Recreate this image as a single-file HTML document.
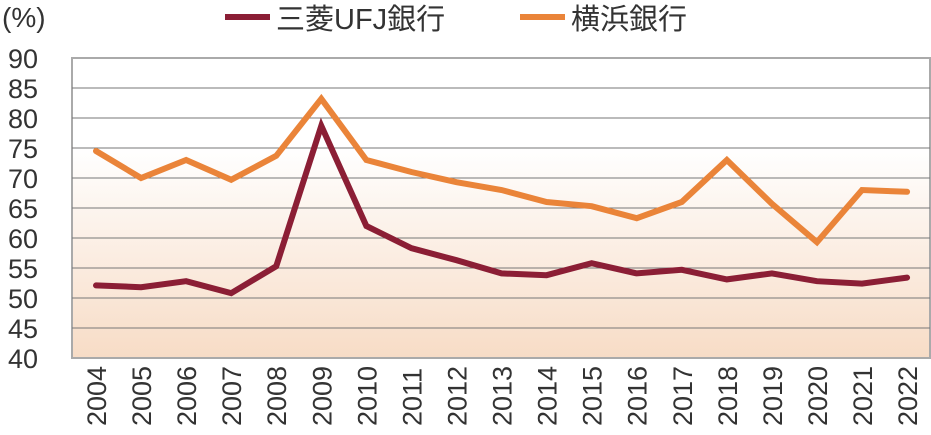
<!DOCTYPE html>
<html><head><meta charset="utf-8"><style>
body{margin:0;background:#fff;width:931px;height:430px;overflow:hidden;font-family:"Liberation Sans","Noto Sans CJK JP",sans-serif}
</style></head><body>
<svg width="931" height="430">
<defs><linearGradient id="bg" x1="0" y1="0" x2="0" y2="1">
<stop offset="0" stop-color="#ffffff"/><stop offset="0.3" stop-color="#ffffff"/><stop offset="1" stop-color="#f7dcc6"/></linearGradient></defs>
<text x="2" y="27" font-size="28" fill="#333">(%)</text>
<g>
<line x1="225" y1="17" x2="270" y2="17" stroke="#8b1e35" stroke-width="6"/>
<text x="276" y="29" font-size="29" fill="#333">三菱UFJ銀行</text>
<line x1="520" y1="17" x2="565" y2="17" stroke="#ea8439" stroke-width="6"/>
<text x="571" y="29" font-size="29" fill="#333">横浜銀行</text>
</g>
<rect x="72" y="58" width="858" height="300" fill="url(#bg)" stroke="#aaa" stroke-width="2"/>
<g id="grid"></g><g id="yl"></g><g id="xl"></g><g id="series"></g>
</svg>
<script>
const years=["2004","2005","2006","2007","2008","2009","2010","2011","2012","2013","2014","2015","2016","2017","2018","2019","2020","2021","2022"];
const mufg=[52.1,51.8,52.8,50.8,55.3,78.7,62,58.3,56.3,54.1,53.8,55.8,54.1,54.7,53.1,54.1,52.8,52.4,53.4];
const yokohama=[74.5,70,73,69.7,73.7,83.2,73,71,69.3,68,66,65.3,63.3,66,73,65.7,59.3,68,67.7];
const yTicks=[40,45,50,55,60,65,70,75,80,85,90];
const NS="http://www.w3.org/2000/svg";
const y=v=>358-(v-40)*6;
const x=i=>96+i*45.06;
function mk(t,a,p){const e=document.createElementNS(NS,t);for(const k in a)e.setAttribute(k,a[k]);document.getElementById(p).appendChild(e);return e;}
yTicks.forEach(v=>{
 if(v>40&&v<90){const l=mk('line',{x1:72,x2:930,y1:y(v),y2:y(v),stroke:'#777','stroke-width':1},'grid');
 
 }
 const t=mk('text',{x:8,y:y(v)+10,'font-size':27,fill:'#333'},'yl');t.textContent=v;
 
 
});
years.forEach((yr,i)=>{
 const t=mk('text',{transform:`translate(${x(i)+10},426) rotate(-90)`,'font-size':27,fill:'#333'},'xl');t.textContent=yr;
 
 
});
function line(vals,col,name){
 const p=mk('polyline',{points:vals.map((v,i)=>x(i)+','+y(v)).join(' '),fill:'none',stroke:col,'stroke-width':6,'stroke-linejoin':'miter','stroke-linecap':'round'},'series');
 
 
}
line(yokohama,'#ea8439','yokohama-line');
line(mufg,'#8b1e35','mufg-line');
</script>
</body></html>
